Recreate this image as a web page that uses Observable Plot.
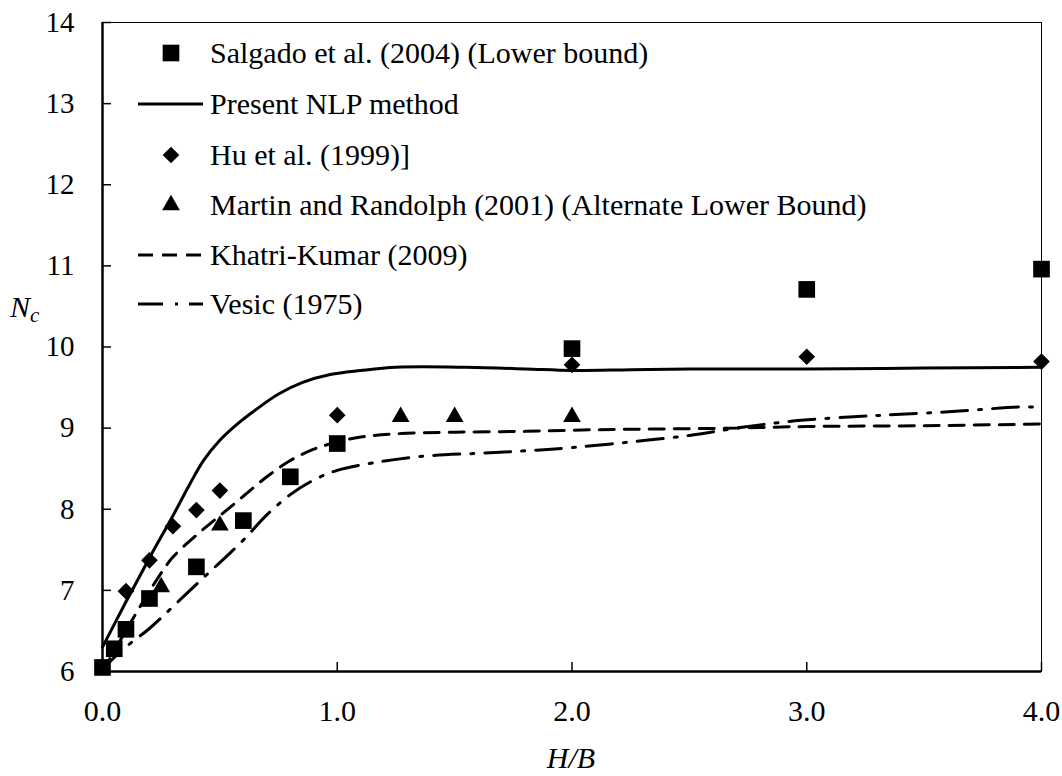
<!DOCTYPE html>
<html><head><meta charset="utf-8">
<script src="https://cdn.jsdelivr.net/npm/d3@7"></script>
<script src="https://cdn.jsdelivr.net/npm/@observablehq/plot@0.6"></script>
<style>
body{margin:0;background:#fff;}
#wrap{position:relative;width:1062px;height:776px;font-family:"Liberation Serif","Times New Roman",serif;}
#wrap svg{position:absolute;left:0;top:0;}
</style></head><body><div id="wrap"></div>
<script>
// ---- data ----
const xTicks = [0, 1, 2, 3, 4];
const yTicks = [6, 7, 8, 9, 10, 11, 12, 13, 14];

const salgadoX = [0, 0.05, 0.1, 0.2, 0.4, 0.6, 0.8, 1.0, 2.0, 3.0, 4.0];
const salgadoY = [6.05, 6.28, 6.52, 6.9, 7.29, 7.86, 8.4, 8.81, 9.98, 10.71, 10.96];

const huX = [0.1, 0.2, 0.3, 0.4, 0.5, 1.0, 2.0, 3.0, 4.0];
const huY = [6.99, 7.37, 7.79, 7.99, 8.23, 9.16, 9.78, 9.88, 9.82];

const martinX = [0.25, 0.5, 1.27, 1.5, 2.0];
const martinY = [7.04, 7.8, 9.14, 9.14, 9.14];

const nlpX = [0, 0.1, 0.2, 0.3, 0.37, 0.43, 0.5, 0.57, 0.65, 0.75, 0.85, 0.97, 1.1, 1.25, 1.55, 1.8, 2.0, 2.25, 2.5, 3.0, 3.5, 4.0];
const nlpY = [6.3, 6.86, 7.4, 7.92, 8.3, 8.6, 8.85, 9.04, 9.22, 9.42, 9.56, 9.66, 9.71, 9.75, 9.75, 9.73, 9.71, 9.72, 9.73, 9.73, 9.74, 9.75];

const khatriX = [0, 0.125, 0.24, 0.3, 0.4, 0.5, 0.6, 0.7, 0.8, 0.9, 1.0, 1.1, 1.25, 1.5, 1.8, 2.1, 2.4, 2.7, 3.0, 3.5, 4.0];
const khatriY = [6.0, 6.63, 7.17, 7.41, 7.68, 7.92, 8.16, 8.4, 8.6, 8.74, 8.83, 8.89, 8.93, 8.95, 8.96, 8.98, 8.99, 9.0, 9.02, 9.03, 9.05];

const vesicX = [0, 0.06, 0.12, 0.2, 0.3, 0.42, 0.51, 0.6, 0.7, 0.8, 0.9, 1.0, 1.15, 1.35, 1.6, 1.8, 2.0, 2.25, 2.5, 2.7, 2.95, 3.2, 3.4, 3.65, 3.9, 4.0];
const vesicY = [6.02, 6.2, 6.35, 6.53, 6.8, 7.13, 7.37, 7.62, 7.93, 8.18, 8.36, 8.48, 8.57, 8.65, 8.69, 8.72, 8.76, 8.83, 8.91, 9.0, 9.09, 9.14, 9.17, 9.21, 9.26, 9.26];

const legendLabels = [
  "Salgado et al. (2004) (Lower bound)",
  "Present NLP method",
  "Hu et al. (1999)]",
  "Martin and Randolph (2001) (Alternate Lower Bound)",
  "Khatri-Kumar (2009)",
  "Vesic (1975)"
];
const xLabel = "H/B";
const yLabelMain = "N";
const yLabelSub = "c";

// ---- build ----
const zip = (xs, ys) => xs.map((x, i) => ({x, y: ys[i]}));
const salgado = zip(salgadoX, salgadoY);
const hu = zip(huX, huY);
const martin = zip(martinX, martinY);
const nlp = zip(nlpX, nlpY);
const khatri = zip(khatriX, khatriY);
const vesic = zip(vesicX, vesicY);

const FONT = '"Liberation Serif", "Times New Roman", serif';
const DASH = "15,10";
const DASHDOT = "26,11,3,11";
const R_SQ = 9.4, R_DI = 7.5, R_TR = 6.6;

const chart = Plot.plot({
  width: 1062, height: 776,
  marginLeft: 102, marginRight: 21, marginTop: 22, marginBottom: 105,
  style: {fontFamily: FONT, background: "white", color: "black"},
  x: {domain: [0, 4]},
  y: {domain: [6, 14]},
  marks: [
    Plot.frame({stroke: "black", strokeWidth: 1}),
    Plot.axisX({ticks: xTicks, tickSize: 0, tickPadding: 28, tickFormat: d3.format(".1f"), fontSize: 30, label: null}),
    Plot.axisX({ticks: xTicks, tickSize: -9, tickFormat: () => "", label: null, strokeWidth: 1.5}),
    Plot.axisY({ticks: yTicks, tickSize: 0, tickPadding: 28, tickFormat: d3.format("d"), fontSize: 29, label: null}),
    Plot.axisY({ticks: yTicks, tickSize: -9, tickFormat: () => "", label: null, strokeWidth: 1.5}),
    Plot.ruleX([0], {stroke: "black", strokeWidth: 2.5}),
    Plot.ruleY([6], {stroke: "black", strokeWidth: 2.5}),
    Plot.line(vesic, {x: "x", y: "y", curve: "catmull-rom", stroke: "black", strokeWidth: 3, strokeDasharray: DASHDOT}),
    Plot.line(khatri, {x: "x", y: "y", curve: "catmull-rom", stroke: "black", strokeWidth: 3, strokeDasharray: DASH}),
    Plot.line(nlp, {x: "x", y: "y", curve: "catmull-rom", stroke: "black", strokeWidth: 3}),
    Plot.dot(martin, {x: "x", y: "y", symbol: "triangle", r: R_TR, fill: "black", stroke: "none"}),
    Plot.dot(hu, {x: "x", y: "y", symbol: "diamond2", r: R_DI, fill: "black", stroke: "none"}),
    Plot.dot(salgado, {x: "x", y: "y", symbol: "square", r: R_SQ, fill: "black", stroke: "none"})
  ]
});
document.getElementById("wrap").appendChild(chart);

// ---- overlay: legend and axis titles ----
const ov = d3.select("#wrap").append("svg")
  .attr("width", 1062).attr("height", 776)
  .style("pointer-events", "none")
  .attr("font-family", FONT);

const rowY = [53, 104, 155, 205, 255, 304];
const kinds = ["square", "solid", "diamond", "triangle", "dash", "dashdot"];
const symArea = r => r * r * Math.PI;
kinds.forEach((k, i) => {
  const cy = rowY[i];
  if (k === "square" || k === "diamond" || k === "triangle") {
    const sym = k === "square" ? d3.symbolSquare : k === "diamond" ? d3.symbolDiamond2 : d3.symbolTriangle;
    const r = k === "square" ? R_SQ : k === "diamond" ? R_DI : R_TR;
    ov.append("path").attr("d", d3.symbol(sym, symArea(r))())
      .attr("transform", `translate(171,${cy})`).attr("fill", "black");
  } else {
    ov.append("line").attr("x1", 138).attr("x2", 203).attr("y1", cy).attr("y2", cy)
      .attr("stroke", "black").attr("stroke-width", 3)
      .attr("stroke-dasharray", k === "dash" ? "15,9" : k === "dashdot" ? "25,12,3,11" : null);
  }
  ov.append("text").attr("x", 210).attr("y", cy + 10).attr("font-size", 30).attr("fill", "black").text(legendLabels[i]);
});

ov.append("text").attr("x", 571).attr("y", 768).attr("text-anchor", "middle")
  .attr("font-size", 30).attr("font-style", "italic").text(xLabel);
const yl = ov.append("text").attr("x", 10).attr("y", 317).attr("font-size", 30).attr("font-style", "italic");
yl.append("tspan").text(yLabelMain);
yl.append("tspan").attr("font-size", 21).attr("dy", 5).text(yLabelSub);
</script>
</body></html>
